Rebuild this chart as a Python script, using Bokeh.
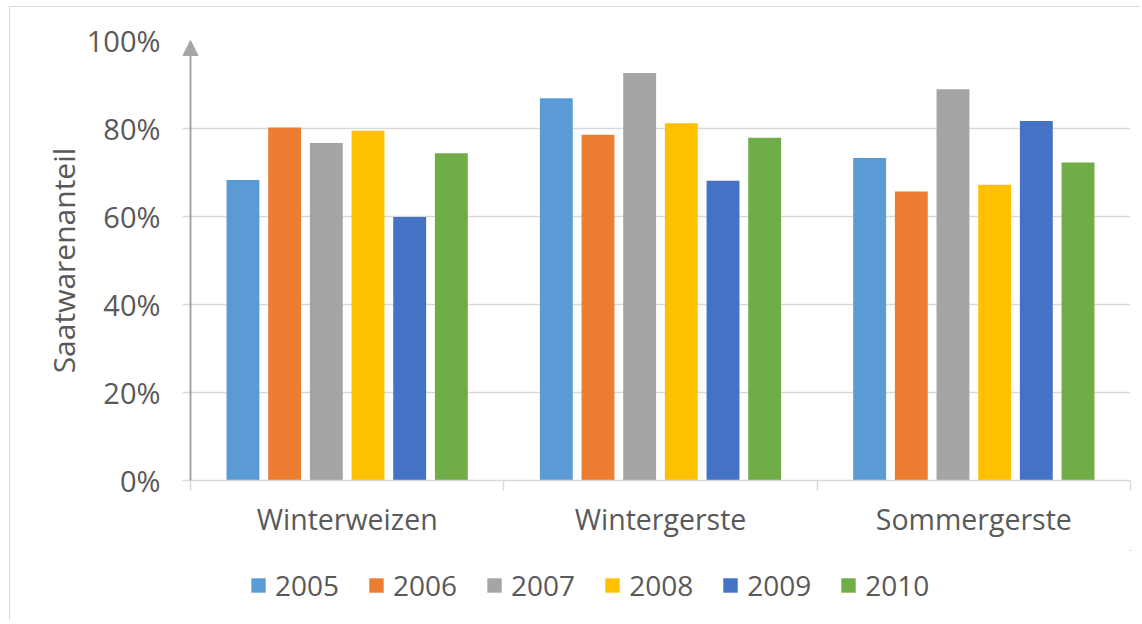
from bokeh.plotting import figure
from bokeh.layouts import column
from bokeh.models import (ColumnDataSource, FixedTicker, LinearAxis, Legend, LegendItem,
                          NumeralTickFormatter, Arrow, NormalHead, Range1d)
from bokeh.transform import dodge
from bokeh.embed import file_html
from bokeh.resources import INLINE

categories = ["Winterweizen", "Wintergerste", "Sommergerste"]
years = ["2005", "2006", "2007", "2008", "2009", "2010"]
v2005 = [0.683, 0.869, 0.733]
v2006 = [0.802, 0.786, 0.657]
v2007 = [0.767, 0.926, 0.889]
v2008 = [0.795, 0.812, 0.672]
v2009 = [0.599, 0.681, 0.817]
v2010 = [0.744, 0.779, 0.723]
series = [v2005, v2006, v2007, v2008, v2009, v2010]
colors = ["#5B9BD5", "#ED7D31", "#A5A5A5", "#FFC000", "#4472C4", "#70AD47"]
yticks = [0, 0.2, 0.4, 0.6, 0.8, 1.0]

FONT = "Open Sans"
TXT = "#595959"
GRID = "#D9D9D9"

p = figure(width=1130, height=543, output_backend="svg", toolbar_location=None,
           x_range=Range1d(-0.0255, len(categories)), y_range=Range1d(0, 1),
           x_axis_location=None, y_axis_location="left",
           min_border_left=172, min_border_right=10, min_border_top=33, min_border_bottom=70)
p.outline_line_color = None

data = {"xc": [i + 0.5 for i in range(len(categories))], "cat": categories}
for y, s in zip(years, series):
    data["y" + y] = s
src = ColumnDataSource(data)

n = len(years)
pitch = 0.133
offsets = [(i - (n - 1) / 2) * pitch for i in range(n)]
for y, c, off in zip(years, colors, offsets):
    p.vbar(x=dodge("xc", off, range=p.x_range), top="y" + y,
           width=0.105, source=src, fill_color=c, line_color=None)

# y axis
ya = p.yaxis[0]
ya.ticker = FixedTicker(ticks=yticks)
ya.formatter = NumeralTickFormatter(format="0%")
ya.axis_line_color = None
ya.major_tick_line_color = None
ya.minor_tick_line_color = None
ya.major_tick_out = 0
ya.major_label_text_font = FONT
ya.major_label_text_font_size = "29px"
ya.major_label_text_color = TXT
ya.major_label_standoff = 22
ya.axis_label = "Saatwarenanteil"
ya.axis_label_text_font = FONT
ya.axis_label_text_font_size = "30px"
ya.axis_label_text_font_style = "normal"
ya.axis_label_text_color = TXT
ya.axis_label_standoff = 0

p.ygrid.ticker = FixedTicker(ticks=yticks)
p.ygrid.grid_line_color = GRID
p.ygrid.grid_line_width = 1.5
p.xgrid.grid_line_color = None

# x axis: category labels at centers, tick marks at boundaries (minor ticks)
xl = LinearAxis(ticker=FixedTicker(ticks=data["xc"],
                                   minor_ticks=list(range(len(categories) + 1))))
xl.major_label_overrides = {x: c for x, c in zip(data["xc"], categories)}
xl.axis_line_color = GRID
xl.axis_line_width = 1.5
xl.major_tick_line_color = None
xl.major_tick_out = 10
xl.major_tick_in = 0
xl.minor_tick_line_color = GRID
xl.minor_tick_line_width = 1.5
xl.minor_tick_out = 10
xl.minor_tick_in = 0
xl.major_label_text_font = FONT
xl.major_label_text_font_size = "28.5px"
xl.major_label_text_color = TXT
xl.major_label_standoff = 9
p.add_layout(xl, "below")

# y axis line with arrow head
p.add_layout(Arrow(x_start=0, y_start=0, x_end=0, y_end=1, line_color="#A6A6A6", line_width=2,
                   end=NormalHead(size=15, fill_color="#A6A6A6", line_color="#A6A6A6")))

# legend strip (same data source; its view range shows no bars, only the legend)
p2 = figure(width=1130, height=70, output_backend="svg", toolbar_location=None,
            x_range=Range1d(-2, -1), y_range=Range1d(-2, -1),
            x_axis_location=None, y_axis_location=None,
            min_border_left=0, min_border_right=0, min_border_top=0, min_border_bottom=0)
p2.outline_line_color = None
p2.xgrid.grid_line_color = None
p2.ygrid.grid_line_color = None
items = []
for y, c in zip(years, colors):
    r = p2.vbar(x="xc", top="y" + y, width=0.105, source=src, fill_color=c, line_color=None)
    items.append(LegendItem(label=y, renderers=[r]))
legend = Legend(items=items, orientation="horizontal", location=(67, 16),
                label_text_font=FONT, label_text_font_size="28px", label_text_color=TXT,
                glyph_width=18, glyph_height=18, label_standoff=8, spacing=28,
                border_line_color=None, background_fill_alpha=0, padding=0, margin=0)
p2.add_layout(legend, "center")

layout = column(p, p2, spacing=0,
                styles={"border-top": "1px solid #D9D9D9", "border-left": "1px solid #D9D9D9",
                        "margin-left": "9px", "margin-top": "6px"})

open("out.html", "w").write(file_html(layout, INLINE))
